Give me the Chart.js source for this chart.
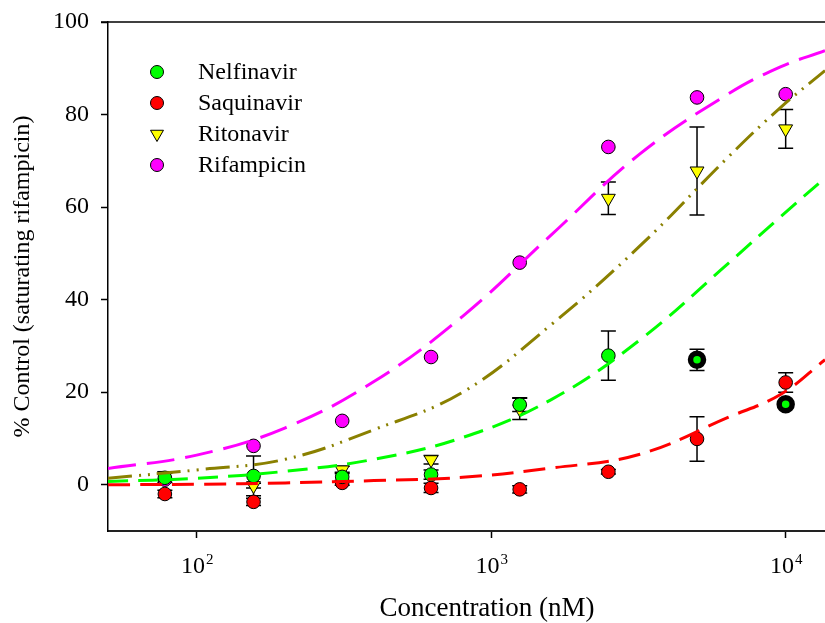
<!DOCTYPE html>
<html>
<head>
<meta charset="utf-8">
<script src="https://cdn.jsdelivr.net/npm/chart.js@4.4.1/dist/chart.umd.min.js"></script>
<style>
  html, body { margin: 0; padding: 0; background: #fff; overflow: hidden; }
  canvas { display: block; }
</style>
</head>
<body>
<canvas id="myChart" width="825" height="623"></canvas>
<script>
// concentrations tested (nM)
var concentrations = [78, 156, 312, 625, 1250, 2500, 5000, 10000];

// mean response, % of control
var nelfinavir = [1.5, 1.9, 1.7, 2.2, 17.3, 27.9, 27.0, 17.4];
var saquinavir = [-2.0, -3.7, 0.4, -0.7, -1.0, 2.8, 9.9, 22.1];
var ritonavir  = [2.0, -0.2, 3.2, 5.4, 16.4, 61.9, 67.8, 76.9];
var rifampicin = [1.1, 8.4, 13.8, 27.6, 48.0, 73.0, 83.7, 84.4];

// standard errors
var nelfinavirErr = [1.0, 4.3, 1.0, 1.0, 1.5, 5.3, 2.3, 0.5];
var saquinavirErr = [0.8, 0.8, 0.5, 1.0, 0.8, 0.5, 4.8, 2.1];
var ritonavirErr  = [0.8, 0.5, 0.8, 0.9, 2.3, 3.5, 9.5, 4.2];
var rifampicinErr = [0, 0, 0, 0, 0, 0, 0, 0];

// nelfinavir points left out of the fit
var nelfinavirExcluded = [false, false, false, false, false, false, true, true];

// fitted dose-response curves, sampled along the axis
var fitX = [50, 100, 200, 400, 800, 1600, 3200, 6400, 9600, 13600];
var nelfinavirFit = [0.7, 1.4, 2.9, 5.5, 10.2, 18.4, 31.3, 47.9, 57.9, 66.3];
var saquinavirFit = [0.0, 0.1, 0.4, 0.9, 1.6, 3.6, 6.6, 14.6, 19.5, 27.0];
var ritonavirFit  = [1.4, 3.2, 5.5, 11.9, 20.0, 34.6, 51.6, 70.9, 81.5, 89.5];
var rifampicinFit = [3.5, 6.4, 12.3, 22.3, 36.4, 54.0, 71.5, 84.5, 90.3, 93.8];

var xTickValues = [100, 1000, 10000];
var yTickValues = [0, 20, 40, 60, 80, 100];

var FONT = "'Liberation Serif', 'Times New Roman', serif";
var R_CIRCLE = 6.8, R_TRI = 8;

function pts(xs, ys) {
    return xs.map(function (x, i) { return { x: x, y: ys[i] }; });
}

function markers(label, values, errs, color, style) {
    return {
        label: label,
        data: pts(concentrations, values),
        errors: errs,
        backgroundColor: color,
        borderColor: '#000',
        pointStyle: style,
        pointRotation: style === 'triangle' ? 180 : 0,
        pointRadius: style === 'triangle' ? R_TRI : R_CIRCLE,
        pointBorderWidth: 1,
        order: 2
    };
}

function curve(values, color, dash) {
    return {
        data: pts(fitX, values),
        showLine: true,
        borderColor: color,
        borderWidth: 3,
        borderDash: dash,
        pointRadius: 0,
        fill: false,
        tension: 0.4,
        order: 1
    };
}

var nelMarkers = markers('Nelfinavir', nelfinavir, nelfinavirErr, '#00ff00', 'circle');
nelMarkers.pointBorderWidth = nelfinavirExcluded.map(function (e) { return e ? 5.5 : 1; });
nelMarkers.pointRadius = nelfinavirExcluded.map(function (e) { return e ? 6.5 : R_CIRCLE; });

var pointSets = [
    nelMarkers,
    markers('Saquinavir', saquinavir, saquinavirErr, '#ff0000', 'circle'),
    markers('Ritonavir', ritonavir, ritonavirErr, '#ffff00', 'triangle'),
    markers('Rifampicin', rifampicin, rifampicinErr, '#ff00ff', 'circle')
];

var curveSets = [
    curve(rifampicinFit, '#ff00ff', [28, 11]),
    curve(ritonavirFit, '#8a8000', [24, 7, 2, 7, 2, 7]),
    curve(nelfinavirFit, '#00ff00', [20, 10]),
    curve(saquinavirFit, '#ff0000', [22, 10])
];

var extras = {
    id: 'extras',
    beforeDatasetsDraw: function (chart) {
        // error bars sit underneath the symbols
        var ctx = chart.ctx, xs = chart.scales.x, ys = chart.scales.y;
        ctx.save();
        ctx.strokeStyle = '#000';
        ctx.lineWidth = 1.5;
        pointSets.forEach(function (ds) {
            ds.data.forEach(function (p, i) {
                var e = ds.errors[i];
                if (!e) return;
                var px = xs.getPixelForValue(p.x);
                var top = ys.getPixelForValue(p.y + e);
                var bot = ys.getPixelForValue(p.y - e);
                ctx.beginPath();
                ctx.moveTo(px, top); ctx.lineTo(px, bot);
                ctx.moveTo(px - 7.5, top); ctx.lineTo(px + 7.5, top);
                ctx.moveTo(px - 7.5, bot); ctx.lineTo(px + 7.5, bot);
                ctx.stroke();
            });
        });
        ctx.restore();
    },
    afterDraw: function (chart) {
        var ctx = chart.ctx, area = chart.chartArea, xs = chart.scales.x;
        ctx.save();

        // frame line along the top
        ctx.strokeStyle = '#000';
        ctx.lineWidth = 1.5;
        ctx.beginPath();
        ctx.moveTo(area.left - 7, area.top);
        ctx.lineTo(area.right, area.top);
        ctx.stroke();

        // decade labels 10^n
        ctx.fillStyle = '#000';
        ctx.textBaseline = 'alphabetic';
        ctx.textAlign = 'left';
        xTickValues.forEach(function (v) {
            var base = '10', exp = String(Math.round(Math.log10(v)));
            ctx.font = '24px ' + FONT;
            var wb = ctx.measureText(base).width;
            ctx.font = '15px ' + FONT;
            var we = ctx.measureText(exp).width;
            var x0 = xs.getPixelForValue(v) - (wb + we) / 2;
            ctx.font = '24px ' + FONT;
            ctx.fillText(base, x0, 573);
            ctx.font = '15px ' + FONT;
            ctx.fillText(exp, x0 + wb + 1, 564);
        });

        // x axis title
        ctx.textAlign = 'center';
        ctx.font = '27px ' + FONT;
        ctx.fillText('Concentration (nM)', 487, 616);

        // legend
        ctx.textAlign = 'left';
        ctx.textBaseline = 'middle';
        pointSets.forEach(function (ds, i) {
            var y = 72 + i * 31;
            ctx.fillStyle = ds.backgroundColor;
            ctx.strokeStyle = '#000';
            ctx.lineWidth = 1;
            Chart.helpers.drawPoint(ctx, {
                pointStyle: ds.pointStyle,
                radius: ds.pointStyle === 'triangle' ? 7.5 : 6.5,
                rotation: ds.pointRotation,
                borderWidth: 1
            }, 157, y);
            ctx.fillStyle = '#000';
            ctx.font = '24px ' + FONT;
            ctx.fillText(ds.label, 198, y + 1);
        });
        ctx.restore();
    }
};

var ctx = document.getElementById('myChart').getContext('2d');
var chart = new Chart(ctx, {
    type: 'scatter',
    data: { datasets: pointSets.concat(curveSets) },
    options: {
        responsive: false,
        animation: false,
        layout: { autoPadding: false, padding: { top: 22, right: 0, left: 0, bottom: 0 } },
        plugins: { legend: { display: false }, tooltip: { enabled: false } },
        scales: {
            x: {
                type: 'logarithmic',
                min: 50,
                max: 13600,
                afterBuildTicks: function (scale) {
                    scale.ticks = xTickValues.map(function (v) { return { value: v }; });
                },
                afterFit: function (scale) {
                    scale.height = 92;
                    scale.paddingLeft = 0;
                    scale.paddingRight = 0;
                },
                ticks: { display: false },
                grid: { drawOnChartArea: false, drawTicks: true, tickLength: 7, tickWidth: 1.5, tickColor: '#000' },
                border: { display: true, color: '#222', width: 2 }
            },
            y: {
                min: -10,
                max: 100,
                afterBuildTicks: function (scale) {
                    scale.ticks = yTickValues.map(function (v) { return { value: v }; });
                },
                afterFit: function (scale) {
                    scale.width = 108;
                    scale.paddingTop = 0;
                    scale.paddingBottom = 0;
                },
                ticks: { color: '#000', padding: 12, font: { family: FONT, size: 24 } },
                grid: { drawOnChartArea: false, drawTicks: true, tickLength: 7, tickWidth: 1.5, tickColor: '#000' },
                border: { display: true, color: '#000', width: 1.5 },
                title: {
                    display: true,
                    text: '% Control (saturating rifampicin)',
                    color: '#000',
                    font: { family: FONT, size: 24 },
                    padding: { top: 8, bottom: 8 }
                }
            }
        }
    },
    plugins: [extras]
});
</script>
</body>
</html>
